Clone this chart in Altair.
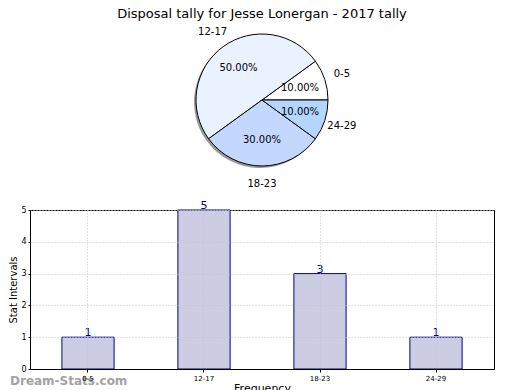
import math
import altair as alt
import pandas as pd

categories = ["0-5", "12-17", "18-23", "24-29"]
counts = [1, 5, 3, 1]
pie_colors = ["#ffffff", "#eaf1ff", "#c4d8ff", "#b4d5ff"]
pie_order = [0, 3, 2, 1]

total = sum(counts)
df = pd.DataFrame({
    "category": categories,
    "count": counts,
    "pct": [f"{c / total * 100:.2f}%" for c in counts],
    "ord": pie_order,
})

FONT = "DejaVu Sans"
start = math.radians(54)

base = alt.Chart(df).encode(
    theta=alt.Theta("count:Q", stack=True,
                    scale=alt.Scale(range=[start, start + 2 * math.pi])),
    order=alt.Order("ord:Q"),
)
shadow = base.mark_arc(outerRadius=66, color="#999999", xOffset=-2, yOffset=2)
arcs = base.mark_arc(outerRadius=66, stroke="black", strokeWidth=1).encode(
    color=alt.Color("category:N", scale=alt.Scale(domain=categories, range=pie_colors),
                    legend=None)
)
pct = base.mark_text(radius=40, fontSize=10, font=FONT, color="black").encode(text="pct:N")
lab = base.mark_text(radius=84, fontSize=10, font=FONT, color="black").encode(text="category:N")

pie = alt.layer(shadow, arcs, pct, lab).properties(
    width=464, height=150,
    view=alt.ViewBackground(stroke=None),
    title=alt.TitleParams("Disposal tally for Jesse Lonergan - 2017 tally",
                          font=FONT, fontSize=13, fontWeight="normal", color="black",
                          anchor="middle", offset=2, dy=-2),
)

axis_common = dict(grid=True, gridDash=[1, 2], gridColor="#c4c4c4", zindex=1,
                   labelFont=FONT, titleFont=FONT, titleFontWeight="normal",
                   domainColor="black", tickColor="black", labelColor="black",
                   titleColor="black")

bar_base = alt.Chart(df).encode(
    x=alt.X("category:N", sort=categories,
            scale=alt.Scale(paddingInner=0.55, paddingOuter=0.275),
            axis=alt.Axis(title="Frequency", labelAngle=0, labelFontSize=7,
                          titleFontSize=11, tickSize=3, labelPadding=2, titlePadding=1,
                          **axis_common)),
    y=alt.Y("count:Q", scale=alt.Scale(domain=[0, 5], nice=False),
            axis=alt.Axis(title="Stat Intervals", values=[0, 1, 2, 3, 4, 5],
                          labelFontSize=8, titleFontSize=10, tickSize=2,
                          labelPadding=2, titlePadding=2, **axis_common)),
)
bars = bar_base.mark_bar(color="#ccccE3", stroke="#00008b", strokeWidth=1)
nums = bar_base.mark_text(baseline="bottom", dy=1, color="#00008b", fontSize=11,
                          font=FONT).encode(text="count:Q")
mark_wm = alt.Chart(pd.DataFrame({"t": ["Dream-Stats.com"]})).mark_text(
    align="left", baseline="middle", font=FONT, fontSize=12, fontWeight="bold",
    color="#8c8c8c", opacity=0.8
).encode(text="t:N", x=alt.value(-20), y=alt.value(171))

bar_chart = alt.layer(bars, nums, mark_wm).properties(
    width=464, height=159, view=alt.ViewBackground(stroke="black", strokeWidth=1)
)

chart = alt.vconcat(pie, bar_chart, spacing=10).properties(
    padding={"left": 0, "top": 0, "right": 0, "bottom": 0}
)

chart.save("out.html", embed_options={"renderer": "svg", "actions": False})
